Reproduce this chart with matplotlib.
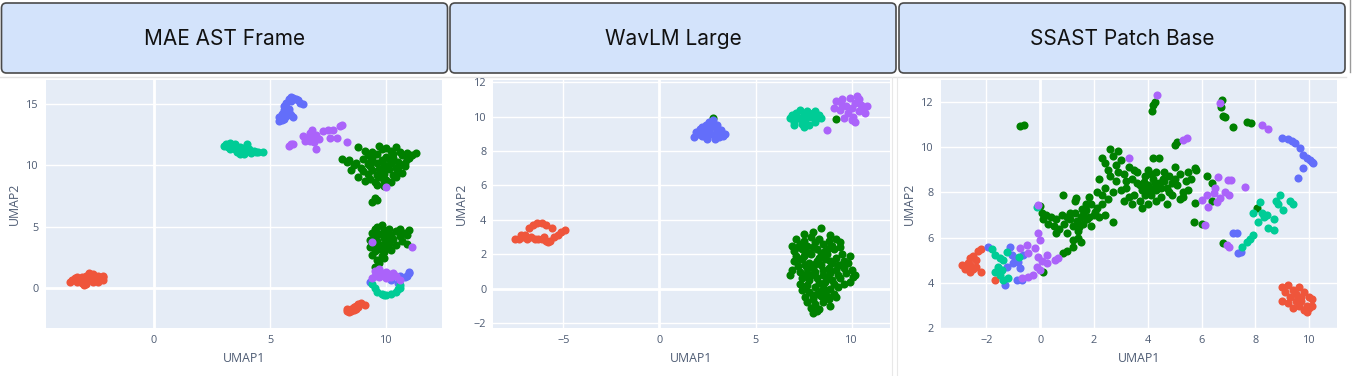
import matplotlib
matplotlib.use('Agg')
import matplotlib.pyplot as plt
from matplotlib.patches import FancyBboxPatch

BLUE = '#636efa'
RED = '#EF553B'
TEAL = '#00cc96'
PURPLE = '#ab63fa'
GREEN = '#008000'

titles = ['MAE AST Frame', 'WavLM Large', 'SSAST Patch Base']

# ---- panel 1: MAE AST Frame ----
mae_red = [(-3.5, 0.6), (-3.4, 0.8), (-3.3, 0.5), (-3.2, 0.7), (-3.1, 0.9), (-3.0, 0.6), (-2.9, 1.0),
           (-2.8, 1.2), (-2.7, 0.9), (-2.6, 1.1), (-2.5, 0.8), (-2.4, 1.0), (-2.3, 0.7), (-2.2, 0.9),
           (-2.2, 0.6), (-2.9, 0.3), (-3.0, 0.2), (-2.6, 0.5), (-3.6, 0.5), (-2.4, 0.5), (-2.8, 0.7),
           (-3.3, 0.9), (-2.2, 1.0), (-3.1, 0.4),
           (8.3, -1.9), (8.4, -1.8), (8.5, -1.7), (8.6, -1.6), (8.7, -1.5), (8.8, -1.3), (8.5, -1.9),
           (8.6, -1.8), (8.7, -1.7), (8.4, -2.0), (9.1, -1.4), (8.9, -1.2), (8.3, -1.7), (8.8, -1.6)]
mae_blue = [(5.4, 13.6), (5.4, 13.9), (5.5, 14.2), (5.6, 14.5), (5.6, 14.8), (5.7, 15.1), (5.8, 15.4),
            (5.9, 15.6), (6.0, 15.5), (6.1, 15.4), (6.2, 15.3), (6.3, 15.1), (6.4, 15.0), (5.7, 14.0),
            (5.8, 14.3), (5.6, 13.8), (5.9, 14.1), (5.5, 13.7), (6.0, 13.9), (5.8, 14.6), (5.9, 15.2),
            (5.6, 14.3),
            (10.6, 1.0), (10.8, 0.9), (11.0, 1.2), (10.9, 1.0), (10.2, 0.6), (9.3, 0.5), (10.5, 0.4),
            (11.0, 1.3)]
mae_teal = [(3.0, 11.6), (3.1, 11.7), (3.2, 11.5), (3.3, 11.8), (3.4, 11.6), (3.5, 11.3), (3.6, 11.1),
            (3.7, 10.9), (3.8, 11.2), (3.9, 11.4), (4.0, 11.7), (4.1, 11.3), (4.2, 11.0), (4.3, 11.2),
            (4.5, 11.1), (4.7, 11.1), (3.5, 11.7), (3.7, 11.5), (3.3, 11.3), (3.9, 10.9), (4.4, 11.1),
            (9.4, 0.3), (9.5, 0.0), (9.6, -0.3), (9.8, -0.5), (10.0, -0.6), (10.2, -0.5), (10.4, -0.3),
            (10.5, -0.1), (10.6, 0.2), (10.6, 0.0), (9.9, -0.55)]
mae_purple = [(5.8, 11.6), (6.0, 11.7), (6.4, 12.4), (6.5, 12.0), (6.6, 12.2), (6.7, 12.6), (6.8, 12.9),
              (6.8, 12.3), (6.9, 11.9), (7.0, 11.3), (7.1, 12.1), (7.3, 12.8), (7.5, 12.9), (7.7, 12.9),
              (7.6, 12.2), (8.0, 13.2), (8.1, 13.3), (7.9, 12.2), (8.3, 11.9), (6.7, 12.0), (7.0, 12.5),
              (5.9, 11.7), (10.0, 8.2), (9.4, 3.7), (11.1, 3.3),
              (9.4, 0.8), (9.5, 1.0), (9.6, 1.3), (9.7, 1.5), (9.8, 1.2), (9.9, 1.0), (10.0, 1.3),
              (10.1, 1.1), (10.2, 0.9), (10.3, 1.2), (10.4, 1.0), (10.6, 0.6), (9.7, 0.9), (10.0, 0.8),
              (9.5, 1.4)]
mae_green = [(8.8, 11.5), (9.7, 11.6), (10.0, 11.4), (10.4, 11.5), (9.1, 11.2), (9.4, 11.1), (9.8, 11.3),
             (10.2, 11.2), (10.6, 11.1), (10.9, 11.0), (11.3, 11.0), (11.1, 10.8), (9.2, 10.8), (9.6, 10.9),
             (10.0, 10.7), (10.3, 10.9), (10.7, 10.8), (8.1, 10.5), (8.4, 10.4), (8.7, 10.2), (9.0, 10.5),
             (9.4, 10.6), (9.8, 10.4), (10.1, 10.5), (10.5, 10.3), (10.9, 10.5), (8.6, 10.0), (9.2, 10.1),
             (9.6, 10.2), (9.9, 10.0), (10.2, 10.2), (10.6, 10.0), (8.9, 9.8), (9.3, 9.9), (9.7, 9.7),
             (10.0, 9.9), (10.4, 9.8), (10.8, 9.9), (8.5, 9.6), (9.0, 9.5), (9.4, 9.6), (9.8, 9.5),
             (10.1, 9.7), (10.5, 9.5), (9.2, 9.3), (9.6, 9.2), (9.9, 9.3), (10.3, 9.2), (10.7, 9.4),
             (8.8, 9.0), (9.3, 8.9), (9.7, 9.0), (10.0, 8.8), (10.4, 9.0), (9.1, 8.7), (9.5, 8.6),
             (9.9, 8.7), (10.2, 8.6), (9.6, 8.4), (9.9, 8.3), (9.5, 7.3), (9.6, 7.2), (9.4, 7.0),
             (8.3, 10.3), (10.8, 10.2), (11.0, 10.6), (9.3, 10.3), (10.3, 10.6),
             (9.6, 5.0), (9.8, 5.1), (9.5, 4.8), (9.9, 4.7), (10.1, 4.8), (10.6, 4.8), (11.0, 4.7),
             (9.4, 4.5), (9.7, 4.4), (10.0, 4.5), (10.4, 4.6), (10.8, 4.5), (10.9, 4.3), (9.5, 4.2),
             (9.9, 4.1), (10.2, 4.3), (10.6, 4.2), (9.3, 3.9), (9.6, 3.8), (10.0, 3.9), (10.3, 4.0),
             (10.7, 3.8), (9.5, 3.6), (9.8, 3.5), (10.1, 3.6), (10.4, 3.5), (9.3, 3.3), (9.7, 3.2),
             (10.0, 3.3), (10.2, 3.1), (9.5, 3.0), (9.9, 2.9), (9.4, 2.7), (9.8, 2.6), (9.6, 2.3),
             (9.9, 2.4), (9.7, 2.0), (9.5, 1.7), (10.9, 3.6)]

# ---- panel 2: WavLM Large ----
wav_red = [(-7.5, 2.9), (-7.3, 2.9), (-7.1, 3.0), (-6.9, 2.9), (-6.7, 3.0), (-6.5, 2.9), (-6.3, 2.9),
           (-6.1, 2.9), (-5.9, 2.8), (-5.7, 2.8), (-5.5, 3.0), (-5.3, 3.1), (-5.1, 3.3), (-4.9, 3.4),
           (-7.0, 3.1), (-6.8, 3.5), (-6.6, 3.7), (-6.4, 3.8), (-6.1, 3.8), (-5.9, 3.7), (-5.6, 3.5),
           (-6.0, 3.0), (-5.8, 2.7), (-7.2, 3.1)]
wav_blue = [(1.8, 8.8), (2.0, 9.0), (2.1, 9.3), (2.2, 8.9), (2.3, 9.2), (2.4, 9.5), (2.5, 9.0), (2.6, 9.3),
            (2.7, 9.6), (2.8, 9.8), (2.9, 9.4), (3.0, 9.1), (3.1, 8.8), (3.3, 8.9), (3.4, 9.0), (2.5, 8.7),
            (2.9, 8.7), (2.2, 9.4), (2.7, 9.0), (3.2, 9.2), (2.4, 8.8), (1.9, 9.1), (2.6, 9.7), (3.0, 9.5)]
wav_teal = [(6.8, 9.9), (6.9, 10.1), (7.0, 9.7), (7.1, 10.2), (7.2, 9.9), (7.3, 10.4), (7.4, 9.6),
            (7.5, 10.1), (7.6, 9.8), (7.7, 10.3), (7.8, 9.5), (7.9, 10.0), (8.0, 10.2), (8.1, 9.7),
            (8.2, 9.9), (8.3, 10.1), (8.4, 9.9), (7.0, 9.5), (7.5, 9.4), (7.3, 9.9), (7.7, 10.0), (8.1, 10.3)]
wav_purple = [(9.1, 10.5), (9.2, 10.9), (9.4, 10.4), (9.5, 11.0), (9.7, 10.6), (9.8, 10.2), (9.9, 11.1),
              (10.0, 10.5), (10.1, 10.0), (10.2, 10.8), (10.3, 11.2), (10.4, 10.3), (10.5, 10.7),
              (10.6, 10.5), (10.7, 10.2), (10.8, 10.6), (9.6, 9.9), (10.0, 9.8), (10.2, 9.7), (9.5, 10.7),
              (10.4, 11.0), (8.7, 9.2)]
wav_green = [(2.8, 9.9), (9.2, 9.85),
             (8.4, 3.5), (7.5, 3.2), (8.0, 3.3), (8.9, 3.1), (7.1, 2.9), (7.5, 2.8), (7.9, 3.0), (8.3, 2.9),
             (8.8, 2.8), (9.2, 2.9), (6.9, 2.5), (7.3, 2.6), (7.7, 2.5), (8.1, 2.7), (8.5, 2.6), (9.0, 2.5),
             (9.4, 2.4), (7.0, 2.2), (7.4, 2.3), (7.8, 2.1), (8.2, 2.3), (8.6, 2.2), (9.1, 2.3), (9.5, 2.0),
             (7.1, 1.9), (7.5, 1.9), (7.9, 2.0), (8.3, 1.8), (8.7, 2.0), (9.2, 1.8), (9.6, 1.6), (7.0, 1.6),
             (7.4, 1.7), (7.8, 1.5), (8.2, 1.6), (8.6, 1.7), (9.0, 1.5), (9.4, 1.4), (9.8, 1.5), (7.2, 1.3),
             (7.6, 1.4), (8.0, 1.2), (8.4, 1.4), (8.8, 1.2), (9.2, 1.1), (9.6, 1.2), (10.0, 1.1), (7.3, 1.0),
             (7.7, 0.9), (8.1, 1.0), (8.5, 0.8), (8.9, 0.9), (9.3, 0.8), (9.7, 0.9), (10.1, 0.7), (6.8, 0.8),
             (7.4, 0.6), (7.8, 0.5), (8.2, 0.6), (8.6, 0.4), (9.0, 0.5), (9.4, 0.6), (9.9, 0.4), (10.2, 0.8),
             (7.3, 0.3), (7.7, 0.2), (8.1, 0.1), (8.5, 0.2), (8.9, 0.0), (9.3, 0.1), (9.6, 0.3), (7.4, -0.1),
             (7.8, -0.2), (8.2, -0.3), (8.6, -0.1), (9.1, -0.3), (7.6, -0.5), (8.0, -0.6), (8.4, -0.4),
             (8.8, -0.6), (9.2, -0.5), (7.7, -0.8), (8.1, -0.9), (8.5, -0.8), (8.9, -1.0), (7.9, -1.1),
             (8.3, -1.2), (8.0, -1.4), (8.2, -1.3), (6.9, 1.1), (9.9, 1.9), (9.4, 2.7),
             (7.2, 2.4), (7.6, 2.15), (8.0, 2.45), (8.4, 2.05), (8.8, 2.35), (7.3, 1.75), (7.7, 1.2),
             (8.1, 1.45), (8.5, 1.1), (8.9, 1.6), (9.3, 1.35), (7.5, 0.75), (7.9, 0.8), (8.3, 0.35),
             (8.7, 0.65), (9.1, 0.25), (7.6, 0.05), (8.0, -0.35), (8.4, -0.15), (8.7, -0.45)]

# ---- panel 3: SSAST Patch Base ----
ssast_red = [(-2.9, 4.8), (-2.8, 4.7), (-2.7, 4.6), (-2.6, 4.8), (-2.5, 4.6), (-2.7, 4.9), (-2.6, 5.1),
             (-2.5, 5.2), (-2.4, 5.0), (-2.3, 5.4), (-2.2, 5.5), (-2.2, 4.5), (-2.4, 4.7), (-2.8, 4.6),
             (-2.6, 4.5), (-1.7, 4.15),
             (9.0, 3.8), (9.1, 3.6), (9.2, 3.9), (9.3, 3.4), (9.4, 3.7), (9.5, 3.5), (9.6, 3.8), (9.7, 3.2),
             (9.8, 3.6), (9.9, 3.0), (10.0, 3.4), (10.1, 3.3), (9.2, 3.1), (9.4, 2.9), (9.6, 3.0), (9.8, 2.8),
             (10.0, 2.9), (9.9, 2.7), (9.5, 3.2), (9.0, 3.2), (9.7, 3.4), (10.1, 3.0)]
ssast_blue = [(-1.93, 5.57), (-1.13, 5.6), (-1.06, 5.23), (-0.94, 5.1), (-0.82, 4.94), (-0.75, 4.64),
              (-1.25, 4.69), (-1.31, 3.91), (-0.88, 4.13), (-0.69, 4.13), (-0.63, 5.23), (-1.0, 4.9),
              (8.97, 10.38), (9.22, 10.35), (9.47, 10.16), (9.65, 9.94), (9.78, 9.64), (10.03, 9.42),
              (10.15, 9.28), (9.75, 9.06), (9.59, 8.62), (9.9, 9.5), (9.35, 10.25), (10.1, 9.35),
              (7.18, 6.19), (7.3, 6.19), (7.36, 5.31), (7.45, 5.35)]
ssast_teal = [(-1.8, 5.5), (-1.68, 5.23), (-1.5, 5.1), (-1.56, 4.72), (-1.44, 4.57), (-1.68, 4.5),
              (-1.38, 4.13), (-1.19, 4.2), (-1.25, 5.38), (-1.38, 5.0), (-0.8, 5.15), (-1.5, 4.35),
              (-0.13, 7.37),
              (8.17, 7.58), (8.91, 7.88), (8.78, 7.6), (9.3, 7.6), (7.92, 7.07), (8.42, 7.0), (8.67, 6.8),
              (8.48, 6.41), (8.67, 6.33), (7.92, 6.12), (7.67, 5.82), (7.49, 5.6), (8.23, 7.07),
              (9.03, 7.22), (8.85, 7.5), (8.3, 6.9), (8.1, 6.7), (9.4, 7.5), (7.8, 5.95)]
ssast_purple = [(-0.75, 5.53), (-0.5, 5.67), (-0.44, 5.3), (-0.2, 5.53), (-0.07, 6.19), (0.0, 5.9),
                (-0.07, 5.16), (0.24, 5.23), (0.05, 4.97), (0.24, 4.9), (0.55, 5.0), (0.67, 5.12),
                (-0.13, 4.72), (0.0, 4.57), (-0.26, 4.35), (-0.44, 4.25), (-0.69, 4.2), (-0.07, 7.44),
                (4.33, 12.3), (3.31, 9.53), (5.44, 10.38), (5.3, 10.3), (8.23, 10.97), (8.48, 10.78),
                (6.68, 11.95),
                (6.62, 8.69), (6.99, 8.54), (7.61, 8.25), (6.19, 7.88), (6.44, 7.95), (6.87, 8.03),
                (7.0, 7.88), (6.56, 7.58), (6.25, 7.36), (6.0, 7.66), (6.68, 7.73), (6.12, 6.56),
                (6.93, 5.67), (7.0, 5.6), (6.5, 8.2), (7.1, 8.55)]
ssast_green = [(-0.75, 10.9), (-0.62, 10.96), (4.2, 11.85), (4.15, 11.6), (4.25, 12.0),
               (6.74, 12.07), (6.7, 11.75), (6.78, 11.38), (6.85, 11.3), (7.18, 10.89), (7.7, 11.1),
               (7.85, 11.05), (5.0, 10.1), (5.1, 10.2),
               (5.75, 9.06), (6.19, 8.73), (6.4, 8.4), (5.75, 7.51), (5.71, 6.70), (6.0, 6.6), (6.4, 7.6),
               (6.8, 5.78), (8.07, 7.29), (0.86, 5.3), (1.0, 5.4), (1.2, 5.6), (0.11, 4.5), (0.0, 7.4),
               (0.05, 7.1), (0.1, 6.8), (0.2, 7.0), (0.3, 6.6), (0.4, 6.9), (0.5, 6.5), (0.6, 6.8),
               (0.7, 6.4), (0.8, 7.0), (0.9, 6.6), (1.0, 6.2), (0.85, 7.9), (0.6, 6.2), (1.33, 7.76),
               (1.1, 6.8), (1.2, 6.5), (1.3, 7.1), (1.4, 6.3), (1.5, 6.9), (1.6, 6.6), (1.7, 7.2),
               (1.8, 6.9), (1.9, 7.5), (2.0, 7.0), (1.2, 5.9), (1.4, 6.0), (1.5, 5.8), (1.3, 7.6),
               (1.7, 7.5), (1.1, 7.1), (1.6, 7.0), (1.9, 6.5), (1.0, 6.9), (1.8, 7.8),
               (2.1, 7.3), (2.2, 6.9), (2.3, 7.5), (2.4, 7.0), (2.2, 8.6), (2.3, 9.5), (2.4, 9.3),
               (2.5, 9.0), (2.6, 9.9), (2.7, 9.6), (2.8, 9.2), (2.9, 9.8), (2.6, 8.7), (2.4, 8.2),
               (2.7, 8.0), (2.5, 7.7), (2.8, 8.5), (2.3, 7.9), (2.7, 6.7), (2.9, 8.9), (2.1, 8.0),
               (3.0, 9.4),
               (3.1, 8.8), (3.2, 8.2), (3.3, 9.1), (3.4, 8.6), (3.5, 7.9), (3.6, 8.4), (3.7, 7.6),
               (3.8, 8.1), (3.9, 8.7), (3.5, 9.0), (3.1, 7.6), (3.3, 7.8), (3.6, 8.9), (3.8, 7.3),
               (3.9, 7.9), (3.2, 8.5), (3.7, 8.3), (3.4, 7.5), (3.0, 8.1),
               (4.0, 8.3), (4.1, 7.9), (4.2, 8.6), (4.3, 8.1), (4.4, 8.4), (4.5, 7.8), (4.6, 8.5),
               (4.7, 8.2), (4.8, 8.7), (4.9, 7.9), (4.2, 9.5), (4.0, 9.0), (4.4, 9.5), (4.6, 8.9),
               (4.3, 7.6), (4.7, 7.5), (4.1, 8.8), (4.5, 8.2), (4.9, 8.4), (4.0, 7.5), (4.3, 8.9),
               (4.8, 8.0),
               (5.0, 8.6), (5.1, 8.3), (5.2, 8.8), (5.3, 8.0), (5.4, 8.5), (5.5, 8.9), (5.3, 7.8),
               (5.6, 8.6), (5.8, 9.0), (5.0, 9.1), (5.2, 7.7), (5.5, 8.1),
               (3.85, 8.45), (4.15, 8.15), (4.35, 8.3), (4.05, 8.05), (4.25, 8.4), (3.95, 8.25),
               (4.55, 8.6), (1.35, 6.75), (1.55, 7.25), (1.45, 6.45), (2.05, 7.15), (1.75, 6.8)]

panels = [
    dict(green=mae_green, red=mae_red, blue=mae_blue, teal=mae_teal, purple=mae_purple,
         xlim=(-4.65, 12.4), ylim=(-3.3, 16.95), xt=[0, 5, 10], yt=[0, 5, 10, 15], left=45.7),
    dict(green=wav_green, red=wav_red, blue=wav_blue, teal=wav_teal, purple=wav_purple,
         xlim=(-8.65, 11.98), ylim=(-2.3, 12.13), xt=[-5, 0, 5, 10], yt=[-2, 0, 2, 4, 6, 8, 10, 12],
         left=493.3),
    dict(green=ssast_green, red=ssast_red, blue=ssast_blue, teal=ssast_teal, purple=ssast_purple,
         xlim=(-3.7, 11.03), ylim=(2.0, 12.95), xt=[-2, 0, 2, 4, 6, 8, 10], yt=[2, 4, 6, 8, 10, 12],
         left=940.7),
]

W, H = 1352, 376
fig = plt.figure(figsize=(W / 100, H / 100), dpi=100)
fig.patch.set_facecolor('white')

# overlay in pixel coordinates for title boxes and frame lines
bg = fig.add_axes([0, 0, 1, 1])
bg.set_xlim(0, W)
bg.set_ylim(H, 0)
bg.axis('off')
box_x = [0.5, 449, 898]
for bx, t in zip(box_x, titles):
    bg.add_patch(FancyBboxPatch((bx + 1, 3), 446, 70, boxstyle='round,pad=0,rounding_size=5',
                                facecolor='#d3e3fb', edgecolor='#4a4a4a', linewidth=1.2))
    bg.text(bx + 224, 39, t, ha='center', va='center', fontsize=15, family='Inter', color='#111111')
bg.plot([0, W - 6], [76.5, 76.5], color='#e3e3e3', linewidth=1)
bg.plot([892, 892], [77, H], color='#e8e8e8', linewidth=0.8)
bg.plot([897, 897], [77, H], color='#e8e8e8', linewidth=0.8)
bg.plot([1350, 1350], [0, 72], color='#9a9a9a', linewidth=1)

for p in panels:
    ax = fig.add_axes([p['left'] / W, (H - 328.3) / H, 396.3 / W, 248.3 / H])
    ax.set_facecolor('#e5ecf6')
    for s in ax.spines.values():
        s.set_visible(False)
    for key, col in [('green', GREEN), ('red', RED), ('blue', BLUE), ('teal', TEAL), ('purple', PURPLE)]:
        pts = p[key]
        ax.scatter([a for a, b in pts], [b for a, b in pts], s=34, color=col, linewidths=0, zorder=3)
    ax.set_xlim(*p['xlim'])
    ax.set_ylim(*p['ylim'])
    ax.set_xticks(p['xt'])
    ax.set_yticks(p['yt'])
    ax.set_xticklabels([str(v).replace('-', '\u2212') for v in p['xt']])
    ax.set_yticklabels([str(v).replace('-', '\u2212') for v in p['yt']])
    ax.grid(True, color='white', linewidth=1)
    ax.set_axisbelow(True)
    ax.axvline(0, color='white', linewidth=2, zorder=1)
    ax.axhline(0, color='white', linewidth=2, zorder=1)
    ax.tick_params(length=0, pad=5, labelsize=7.8, labelcolor='#4d5b73')
    for lab in ax.get_xticklabels() + ax.get_yticklabels():
        lab.set_family('Open Sans')
    ax.set_xlabel('UMAP1', fontsize=8.8, color='#4d5b73', family='Open Sans', labelpad=4)
    ax.set_ylabel('UMAP2', fontsize=8.8, color='#4d5b73', family='Open Sans', labelpad=4)

fig.savefig('out.png', dpi=100)
